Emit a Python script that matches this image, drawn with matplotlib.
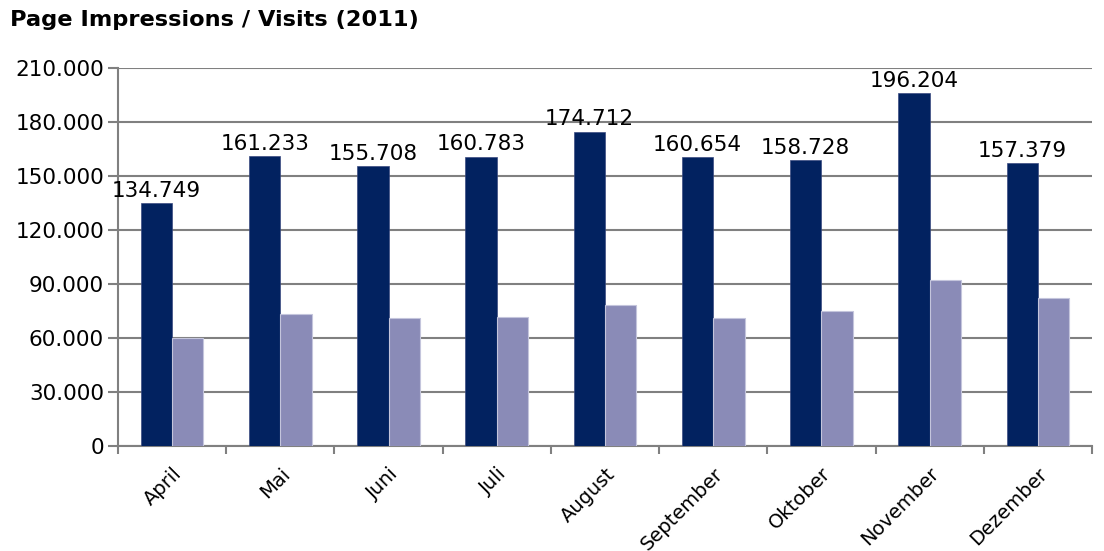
import numpy as np
import matplotlib.pyplot as plt
from matplotlib.ticker import FuncFormatter, FixedLocator

# Daten
monate = ["April", "Mai", "Juni", "Juli", "August", "September", "Oktober", "November", "Dezember"]
page_impressions = [134749, 161233, 155708, 160783, 174712, 160654, 158728, 196204, 157379]
visits = [60200, 73400, 71100, 71700, 78300, 70900, 75000, 92000, 82100]

def tausender(v, pos=None):
    return f"{int(v):,}".replace(",", ".")

fig = plt.figure(figsize=(11.04, 5.51), dpi=100)
ax = fig.add_axes([118 / 1104, 1 - 446 / 551, (1092 - 118) / 1104, (446 - 68) / 551])

x = np.arange(len(monate))
w = 0.29
ax.bar(x - w / 2, page_impressions, w, color="#022260", edgecolor="#3a4a80", linewidth=0.5, zorder=3)
ax.bar(x + w / 2, visits, w, color="#8A8BB7", edgecolor="#c4c5dc", linewidth=0.8, zorder=3)

for xi, v in zip(x, page_impressions):
    ax.text(xi - w / 2, v + 1200, tausender(v), ha="center", va="bottom", fontsize=15.5, zorder=4)

ax.set_xlim(-0.5, len(monate) - 0.5)
ax.set_ylim(0, 210000)
ax.set_yticks(np.arange(0, 210001, 30000))
ax.yaxis.set_major_formatter(FuncFormatter(tausender))
ax.grid(axis="y", color="#808080", linewidth=1.5, zorder=0)

ax.set_xticks(x)
ax.set_xticklabels(monate, rotation=45, ha="right", rotation_mode="anchor", fontsize=14)
ax.xaxis.set_minor_locator(FixedLocator(np.arange(-0.5, len(monate), 1)))
ax.tick_params(axis="x", which="major", length=0, pad=13)
ax.tick_params(axis="x", which="minor", length=6, width=1.5, color="#808080")
ax.tick_params(axis="y", length=7, width=1.5, color="#808080", labelsize=15.5, pad=3)

for s in ["top", "right"]:
    ax.spines[s].set_visible(False)
for s in ["left", "bottom"]:
    ax.spines[s].set_color("#808080")
    ax.spines[s].set_linewidth(1.5)

fig.text(10 / 1104, 1 - 20 / 551, "Page Impressions / Visits (2011)", fontsize=16.2,
         fontweight="bold", va="center", ha="left")

fig.savefig("out.png", dpi=100)
